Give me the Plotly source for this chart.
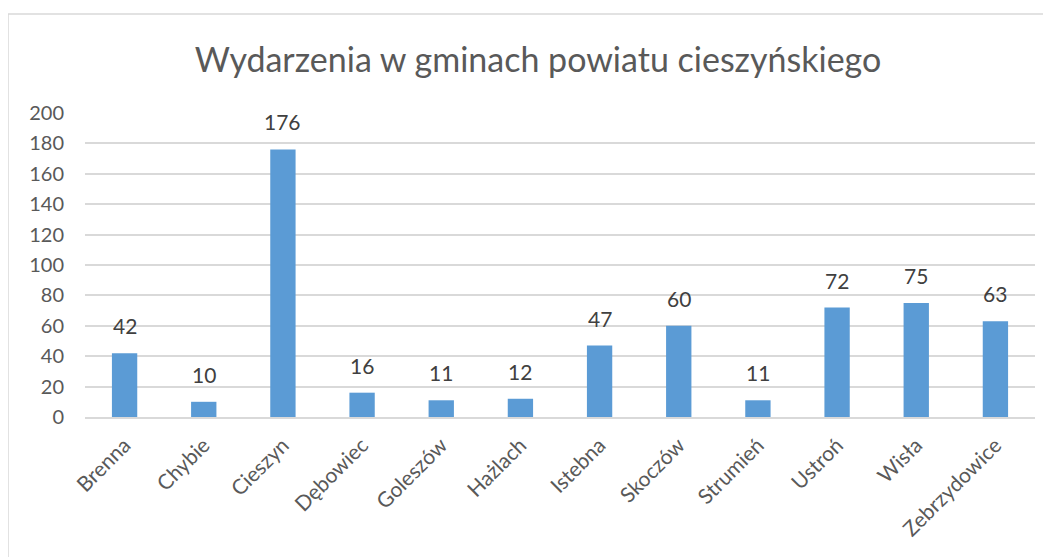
import plotly.graph_objects as go

categories = ["Brenna", "Chybie", "Cieszyn", "Dębowiec", "Goleszów", "Hażlach",
              "Istebna", "Skoczów", "Strumień", "Ustroń", "Wisła", "Zebrzydowice"]
values = [42, 10, 176, 16, 11, 12, 47, 60, 11, 72, 75, 63]
y_ticks = list(range(0, 201, 20))
title_text = "Wydarzenia w gminach powiatu cieszyńskiego"

FONT = "Lato, Open Sans, sans-serif"
OFF = 8  # page body margin
W, H = 1051, 557
L, R, T, B = 85 - OFF, W - (1035 - OFF), 113 - OFF, H - (417 - OFF)
pw, ph = W - L - R, H - T - B

fig = go.Figure(go.Bar(
    x=categories, y=values,
    marker=dict(color="#5B9BD5", line=dict(width=0)),
    width=0.32,
))

for c, v in zip(categories, values):
    fig.add_annotation(x=c, y=v, text=str(v), showarrow=False,
                       xanchor="center", yanchor="bottom", yshift=13,
                       font=dict(family=FONT, size=21, color="#404040"))

fig.update_layout(
    width=W, height=H,
    margin=dict(l=L, r=R, t=T, b=B, autoexpand=False),
    paper_bgcolor="white", plot_bgcolor="white",
    title=dict(text=title_text, x=(538 - OFF) / W, xanchor="center",
               y=1 - (60 - OFF) / H, yanchor="middle",
               font=dict(family=FONT, size=34, color="#595959")),
    showlegend=False,
    xaxis=dict(tickangle=-45, tickfont=dict(family=FONT, size=21, color="#595959"),
               showgrid=False, showline=True, linecolor="#d9d9d9", linewidth=1.5,
               ticks="", ticklabelstandoff=6),
    yaxis=dict(range=[0, 200], tickvals=y_ticks,
               tickfont=dict(family=FONT, size=20, color="#595959"),
               showgrid=True, gridcolor="#d9d9d9", gridwidth=1.5,
               zeroline=False, showline=False, ticks="", ticklabelstandoff=20),
    shapes=[dict(type="rect", xref="paper", yref="paper",
                 x0=(8 - OFF - L) / pw, x1=(W + 10 - L) / pw,
                 y0=-(B + 10) / ph, y1=1 + (T - (14 - OFF)) / ph,
                 line=dict(color="#d9d9d9", width=1.5), fillcolor="rgba(0,0,0,0)",
                 layer="below")],
)

fig.write_html("out.html")
